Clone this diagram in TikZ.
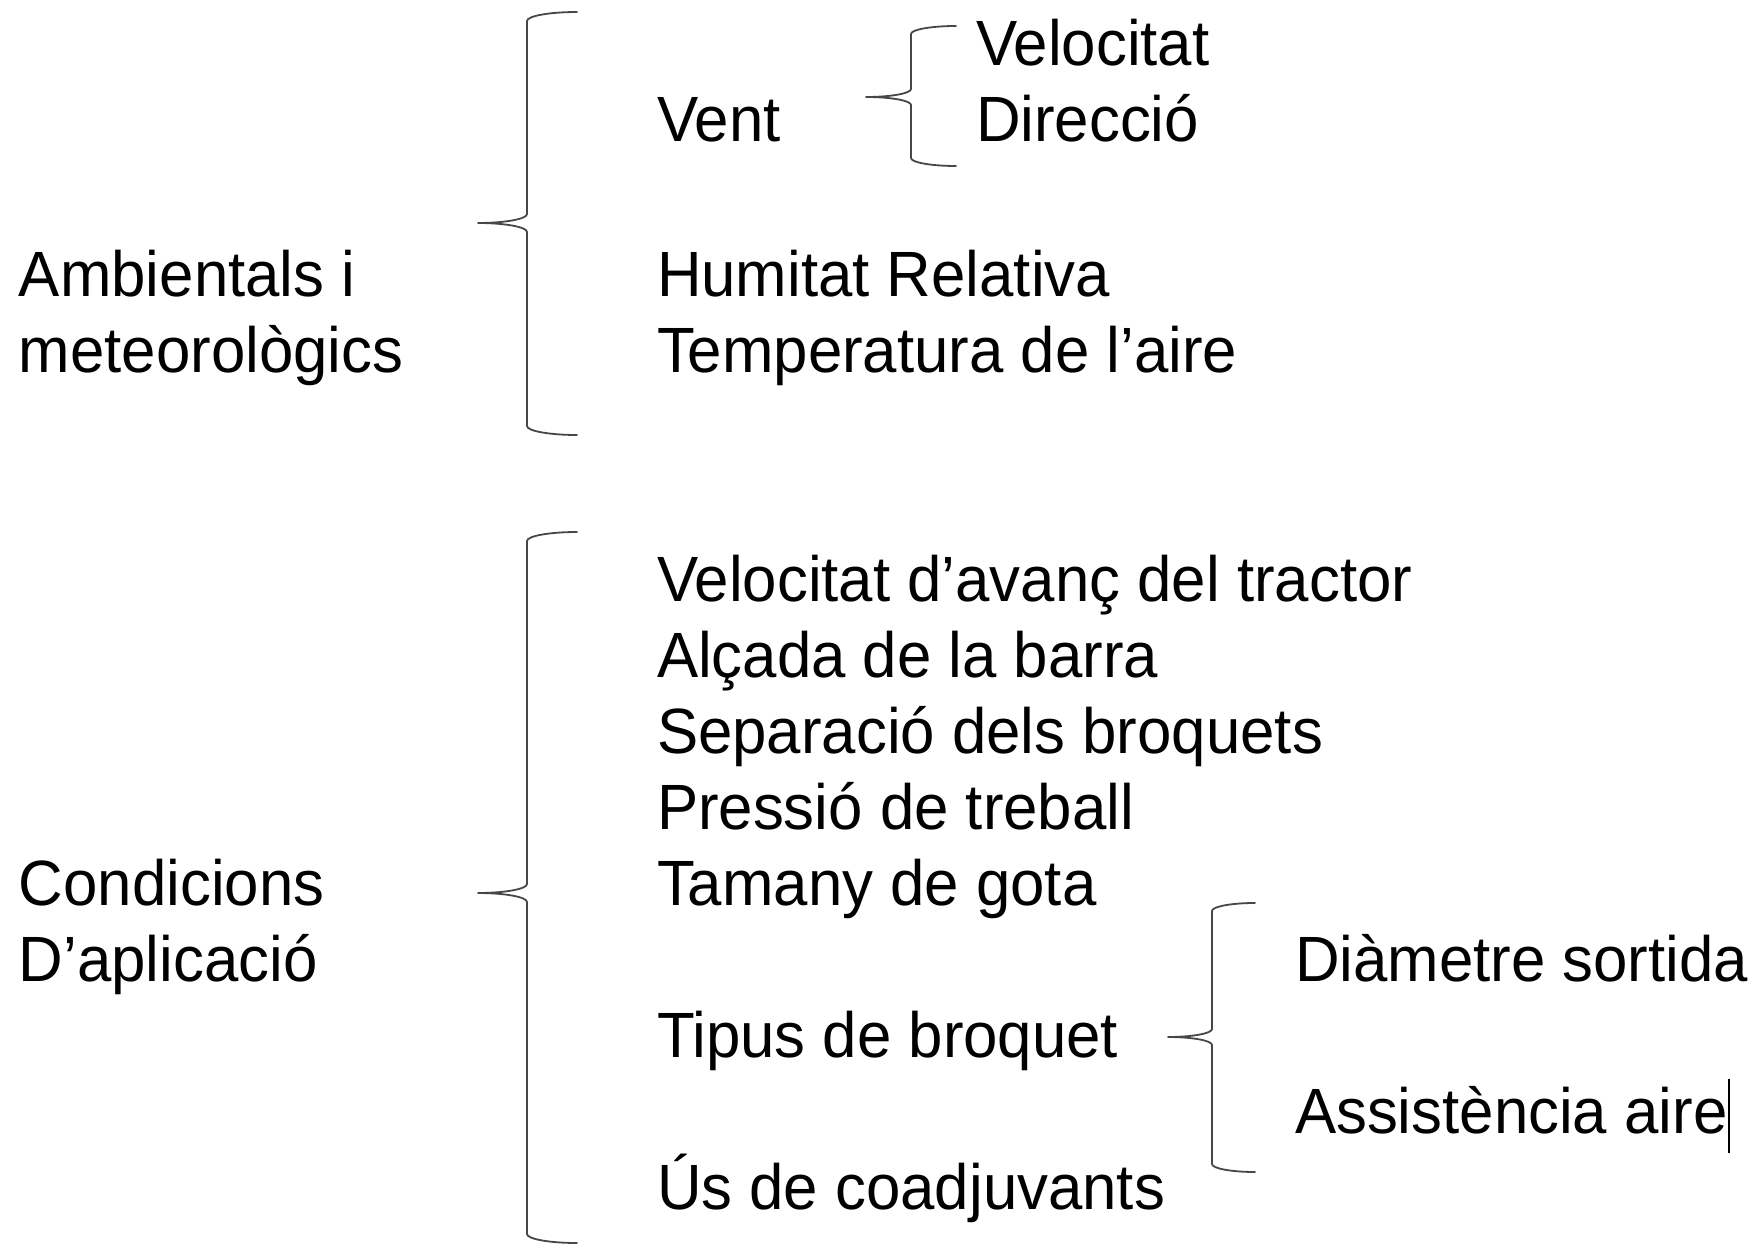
\documentclass[tikz,border=0pt]{standalone}
\usepackage{fontspec}
\setmainfont{Liberation Sans}[FakeStretch=0.965]
\newcommand{\pbrace}[7]{%
  \draw[bracestyle] (#4,#5) .. controls ({#4-0.5523*(#4-#3)},#5) and (#3,{#5+0.4477*#7}) .. (#3,{#5+#7})
    -- (#3,{#2-#7}) .. controls (#3,{#2-0.4477*#7}) and ({#1+0.5523*(#3-#1)},#2) .. (#1,#2)
    .. controls ({#1+0.5523*(#3-#1)},#2) and (#3,{#2+0.4477*#7}) .. (#3,{#2+#7})
    -- (#3,{#6-#7}) .. controls (#3,{#6-0.4477*#7}) and ({#4-0.5523*(#4-#3)},#6) .. (#4,#6);}
\tikzset{
  txt/.style={anchor=base west, inner sep=0pt, outer sep=0pt, text=black,
    font=\fontsize{64}{76}\selectfont},
  bracestyle/.style={draw=black!72, line width=1.8pt, line join=round, line cap=round}
}
\begin{document}
\begin{tikzpicture}[x=1pt,y=-1pt]
\path[fill=white] (0,0) rectangle (1757,1246);
\useasboundingbox (0,0) rectangle (1757,1246);

% braces
\pbrace{478}{223}{527}{577}{12}{435}{9}
\pbrace{478}{893}{527}{577}{532}{1243}{9}
\pbrace{866}{97}{911}{956}{26}{166}{8}
\pbrace{1168}{1037}{1212}{1255}{903}{1172}{8}

% left labels
\node[txt] (amb1) at (19,297) {Ambientals i};
\node[txt] (amb2) at (19,373) {meteorològics};
\node[txt] (cond1) at (19,905) {Condicions};
\node[txt] (cond2) at (19,981) {D’aplicació};

% upper group
\node[txt] (vent) at (657,142) {Vent};
\node[txt] (vel) at (976,66) {Velocitat};
\node[txt] (dir) at (976,142) {Direcció};
\node[txt] (hum) at (657,297) {Humitat Relativa};
\node[txt] (temp) at (657,373) {Temperatura de l’aire};

% lower group
\node[txt] (av) at (657,601) {Velocitat d’avanç del tractor};
\node[txt] (alc) at (657,677) {Alçada de la barra};
\node[txt] (sep) at (657,753) {Separació dels broquets};
\node[txt] (pre) at (657,829) {Pressió de treball};
\node[txt] (tam) at (657,905) {Tamany de gota};
\node[txt] (tip) at (657,1057) {Tipus de broquet};
\node[txt] (us) at (657,1209) {Ús de coadjuvants};
\node[txt] (diam) at (1295,981) {Diàmetre sortida};
\node[txt] (ass) at (1295,1133) {Assistència aire};

% text cursor
\coordinate (cur1) at (1729,1079);
\coordinate (cur2) at (1729,1153);
\draw[line width=2pt, black] (cur1) -- (cur2);
\end{tikzpicture}
\end{document}
